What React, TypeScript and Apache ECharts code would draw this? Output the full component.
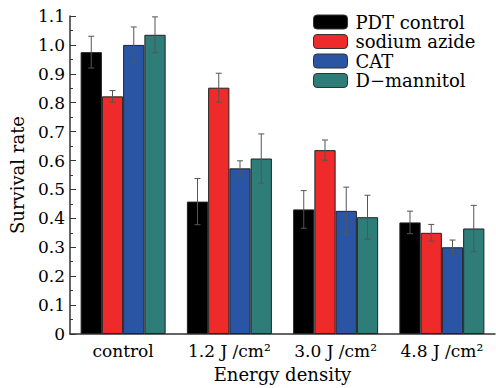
import React, { useEffect, useRef } from "react";
import * as echarts from "echarts";

const categories = ["control", "1.2 J /cm²", "3.0 J /cm²", "4.8 J /cm²"];
const seriesNames = ["PDT control", "sodium azide", "CAT", "D−mannitol"];
const pdtControl = [0.975, 0.458, 0.431, 0.386];
const sodiumAzide = [0.822, 0.852, 0.636, 0.350];
const cat = [1.0, 0.573, 0.426, 0.300];
const dMannitol = [1.035, 0.607, 0.404, 0.365];
const pdtControlErr = [0.055, 0.08, 0.065, 0.039];
const sodiumAzideErr = [0.02, 0.05, 0.035, 0.029];
const catErr = [0.062, 0.026, 0.082, 0.025];
const dMannitolErr = [0.062, 0.085, 0.076, 0.08];
const yTicks = [0, 0.1, 0.2, 0.3, 0.4, 0.5, 0.6, 0.7, 0.8, 0.9, 1.0, 1.1];

const colors = ["#000000", "#ee2a2a", "#2a55a5", "#2e7d78"];
const FONT = "DejaVu Serif";

export default function App() {
  const ref = useRef<HTMLDivElement>(null);
  useEffect(() => {
    if (!ref.current) return;
    const chart = echarts.init(ref.current, null, { renderer: "svg" });
    const values = [pdtControl, sodiumAzide, cat, dMannitol];
    const errs = [pdtControlErr, sodiumAzideErr, catErr, dMannitolErr];
    const nSeries = values.length;
    const barSeries = values.map((vals, i) => ({
      name: seriesNames[i],
      type: "bar",
      data: vals,
      barGap: "0%",
      barCategoryGap: "20%",
      itemStyle: { color: colors[i], borderColor: "#222", borderWidth: 1 },
      z: 2,
    }));
    const errSeries = values.map((vals, i) => ({
      name: seriesNames[i] + " err",
      type: "custom",
      z: 5,
      data: vals.map((v, k) => [k, v, errs[i][k]]),
      renderItem: (params: any, api: any) => {
        const idx = api.value(0);
        const v = api.value(1);
        const e = api.value(2);
        const catW = api.size([1, 0])[0];
        const bw = (catW * 0.8) / nSeries;
        const c = api.coord([idx, v]);
        const x = c[0] + (i - (nSeries - 1) / 2) * bw;
        const yt = api.coord([idx, v + e])[1];
        const yb = api.coord([idx, v - e])[1];
        const hw = 3;
        const style = { stroke: "#555", lineWidth: 1 };
        return {
          type: "group",
          children: [
            { type: "line", shape: { x1: x, y1: yt, x2: x, y2: yb }, style },
            { type: "line", shape: { x1: x - hw, y1: yt, x2: x + hw, y2: yt }, style },
            { type: "line", shape: { x1: x - hw, y1: yb, x2: x + hw, y2: yb }, style },
          ],
        };
      },
    }));
    chart.setOption({
      animation: false,
      backgroundColor: "#ffffff",
      grid: { left: 64, right: 1, top: 16, bottom: 52, containLabel: false },
      legend: {
        data: seriesNames,
        orient: "vertical",
        left: 313,
        top: 13,
        padding: 0,
        itemWidth: 34,
        itemHeight: 14,
        itemGap: 1.5,
        textStyle: { fontFamily: FONT, fontSize: 18, lineHeight: 18, color: "#000", padding: [0, 0, 0, 3] },
        itemStyle: { borderColor: "#333", borderWidth: 1 },
      },
      xAxis: {
        type: "category",
        data: categories,
        name: "Energy density",
        nameLocation: "middle",
        nameGap: 31,
        nameTextStyle: { fontFamily: FONT, fontSize: 18, color: "#000" },
        axisLine: { lineStyle: { color: "#333", width: 1.5 } },
        axisTick: { inside: true, length: 4, lineStyle: { color: "#333" } },
        axisLabel: { interval: 0, fontFamily: FONT, fontSize: 17, color: "#000", margin: 8 },
      },
      yAxis: {
        type: "value",
        min: 0,
        max: 1.1,
        interval: 0.1,
        name: "Survival rate",
        nameLocation: "middle",
        nameGap: 44,
        nameTextStyle: { fontFamily: FONT, fontSize: 18, color: "#000" },
        axisLine: { show: true, lineStyle: { color: "#333", width: 1.5 } },
        axisTick: { show: true, inside: true, length: 6, lineStyle: { color: "#333" } },
        minorTick: { show: true, splitNumber: 2, length: 3, lineStyle: { color: "#333" } },
        splitLine: { show: false },
        axisLabel: {
          fontFamily: FONT,
          fontSize: 17,
          color: "#000",
          margin: 5,
          formatter: (v: number) => {
            const t = yTicks.find((y) => Math.abs(y - v) < 1e-6);
            const val = t === undefined ? v : t;
            return val === 0 ? "0" : val.toFixed(1);
          },
        },
      },
      series: [...barSeries, ...errSeries],
    });
    return () => chart.dispose();
  }, []);
  return <div ref={ref} style={{ width: 496, height: 388, position: "absolute", left: 0, top: 0 }} />;
}
